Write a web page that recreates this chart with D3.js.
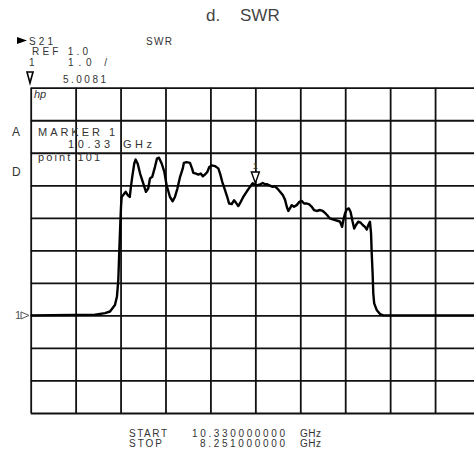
<!DOCTYPE html>
<html>
<head>
<meta charset="utf-8">
<script src="https://cdn.jsdelivr.net/npm/d3@7"></script>
<style>
  body { margin: 0; background: #fff; }
  svg text { font-family: "Liberation Sans", "DejaVu Sans", sans-serif; fill: #333; }
</style>
</head>
<body>
<svg id="swr"></svg>
<script>
// trace: point number (1..201) and SWR value
var pointNum = [1, 29.6, 34.1, 36.3, 38.5, 39.4, 40.0, 40.4, 40.9, 41.2, 41.5, 42.2, 43.3, 44.2, 45.1,
  45.6, 46.2, 47.1, 47.7, 48.6, 49.7, 51.1, 52.3, 53.3, 54.1, 55.1, 56.3, 57.2, 58.1, 59.3,
  60.5, 61.5, 63.0, 64.2, 65.2, 66.3, 67.5, 68.7, 69.2, 70.4, 71.9, 72.8, 73.4, 74.6, 75.6,
  76.7, 77.6, 78.6, 79.6, 80.5, 81.6, 83.0, 84.5, 85.3, 86.3, 87.5, 88.5, 89.3, 90.5, 91.5,
  92.4, 93.4, 94.5, 95.6, 97.1, 98.6, 99.8, 101, 101.6, 103.1, 104.3, 105.3, 106.3, 107.5,
  108.7, 109.7, 110.8, 112.0, 113.2, 114.2, 115.0, 115.7, 116.4, 117.2, 118.2, 119.4, 120.6,
  121.6, 122.7, 123.9, 125.0, 126.1, 127.1, 128.3, 129.8, 131.0, 132.0, 133.0, 134.2, 135.4,
  136.5, 137.5, 138.7, 139.6, 140.2, 140.9, 141.7, 142.6, 143.4, 144.3, 145.0, 145.8, 146.8,
  147.9, 148.8, 149.8, 150.6, 151.3, 152.0, 152.5, 152.8, 153.2, 153.5, 153.9, 155.0, 156.5,
  158.0, 201]
var swrValue = [1.0, 1.02, 1.07, 1.12, 1.32, 1.58, 2.09, 2.92, 3.84, 4.34, 4.64, 4.70, 4.80, 4.70, 4.64,
  4.95, 5.26, 5.67, 5.79, 5.67, 5.36, 5.06, 4.80, 4.90, 5.21, 5.26, 5.56, 5.82, 5.85, 5.67,
  5.41, 5.00, 4.64, 4.51, 4.64, 4.90, 5.26, 5.52, 5.69, 5.71, 5.69, 5.52, 5.38, 5.36, 5.33,
  5.36, 5.28, 5.33, 5.41, 5.56, 5.61, 5.59, 5.52, 5.36, 5.10, 4.85, 4.64, 4.44, 4.42, 4.54,
  4.46, 4.36, 4.49, 4.64, 4.80, 4.95, 5.06, 5.0081, 5.00, 5.03, 5.07, 5.03, 5.03, 4.99,
  4.95, 4.97, 4.90, 4.80, 4.70, 4.56, 4.34, 4.21, 4.29, 4.39, 4.34, 4.39, 4.49,
  4.52, 4.44, 4.44, 4.41, 4.34, 4.24, 4.21, 4.24, 4.21, 4.15, 4.08, 3.98, 3.95,
  3.93, 3.91, 3.88, 3.72, 3.93, 4.13, 4.26, 4.29, 4.18, 3.88, 3.67, 3.78, 3.88,
  3.85, 3.78, 3.72, 3.64, 3.78, 3.88, 3.52, 2.91, 2.29, 1.68, 1.37, 1.17, 1.04,
  1.00, 1.00]

// header / footer texts
var headerLines = ["S21", "REF  1.0", "1", "1.0   /", "5.0081"]
var markerLines = ["MARKER  1", "10.33", "GHz", "point  101"]
var startStop = ["START", "10.330000000", "GHz", "STOP", "8.251000000", "GHz"]

var refValue = 1.0
var markerPoint = 101
var markerValue = 5.0081

var initSwr = function()
{
    var screen = {width:474, height:458}
    var margins = {left:30.7, top:87.7}
    var graph = {width:449.3, height:325.3}

    var svg = d3.select("#swr")
        .attr("width", screen.width)
        .attr("height", screen.height)

    var xScale = d3.scaleLinear()
        .domain([1, 201])
        .range([margins.left, margins.left + graph.width])

    var yScale = d3.scaleLinear()
        .domain([-2, 8])
        .range([margins.top + graph.height, margins.top])

    //grid
    var xGrid = d3.axisBottom(xScale)
        .tickValues(d3.range(1, 202, 20))
        .tickSize(-graph.height)
        .tickFormat("")
    var yGrid = d3.axisLeft(yScale)
        .tickValues(d3.range(-2, 9, 1))
        .tickSize(-graph.width)
        .tickFormat("")

    svg.append("g")
        .attr("transform", "translate(0," + (margins.top + graph.height) + ")")
        .call(xGrid)
    svg.append("g")
        .attr("transform", "translate(" + margins.left + ",0)")
        .call(yGrid)
    svg.selectAll(".domain").remove()
    svg.selectAll(".tick line")
        .attr("stroke", "#111")
        .attr("stroke-width", 1.8)

    //trace
    var line = d3.line()
        .x(function(d, i) { return xScale(pointNum[i]) })
        .y(function(d) { return yScale(d) })

    svg.append("path")
        .datum(swrValue)
        .attr("d", line)
        .attr("fill", "none")
        .attr("stroke", "#000")
        .attr("stroke-width", 2.4)
        .attr("stroke-linejoin", "round")

    //marker on trace
    var mx = xScale(markerPoint), my = yScale(markerValue)
    svg.append("path")
        .attr("d", "M" + (mx - 4) + "," + (my - 13) + "L" + (mx + 4) + "," + (my - 13) + "L" + mx + "," + (my - 2) + "Z")
        .attr("fill", "#fff")
        .attr("stroke", "#000")
        .attr("stroke-width", 1.4)
    svg.append("text")
        .text("1")
        .attr("x", mx)
        .attr("y", my - 16)
        .attr("text-anchor", "middle")
        .style("font-size", "9px")

    //reference marker on the left
    var ry = yScale(refValue)
    svg.append("text")
        .text("1")
        .attr("x", 15)
        .attr("y", ry + 4)
        .style("font-size", "11px")
        .style("fill", "#555")
    svg.append("path")
        .attr("d", "M21," + (ry - 3.5) + "L29," + ry + "L21," + (ry + 3.5) + "Z")
        .attr("fill", "none")
        .attr("stroke", "#555")
        .attr("stroke-width", 1)

    //title
    svg.append("text")
        .text("d.")
        .attr("x", 206)
        .attr("y", 21)
        .style("font-size", "17px")
        .style("fill", "#444")
    svg.append("text")
        .text("SWR")
        .attr("x", 240)
        .attr("y", 21)
        .style("font-size", "17px")
        .style("fill", "#444")

    //header block
    var hdr = svg.append("g").style("font-size", "10px")
    svg.append("path")
        .attr("d", "M17,37L27,40.5L17,44Z")
        .attr("fill", "#000")
    hdr.append("text").text(headerLines[0]).attr("x", 29).attr("y", 45).attr("textLength", 24)
    hdr.append("text").text("SWR").attr("x", 146).attr("y", 45).attr("textLength", 26)
    hdr.append("text").text(headerLines[1]).attr("x", 32).attr("y", 55).attr("textLength", 56)
    hdr.append("text").text(headerLines[2]).attr("x", 29).attr("y", 66)
    hdr.append("text").text(headerLines[3]).attr("x", 68).attr("y", 66).attr("textLength", 39)
    hdr.append("text").text(headerLines[4]).attr("x", 63).attr("y", 83).attr("textLength", 43)
    svg.append("path")
        .attr("d", "M27,72L33,72L30,83Z")
        .attr("fill", "none")
        .attr("stroke", "#000")
        .attr("stroke-width", 1.6)

    //hp logo
    svg.append("text")
        .text("hp")
        .attr("x", 34)
        .attr("y", 98)
        .style("font-size", "11px")
        .style("font-style", "italic")

    //marker readout
    var mk = svg.append("g").style("font-size", "11px")
    mk.append("text").text("A").attr("x", 12).attr("y", 136).style("font-size", "12px")
    mk.append("text").text("D").attr("x", 12).attr("y", 176).style("font-size", "12px")
    mk.append("text").text(markerLines[0]).attr("x", 38).attr("y", 135.5).attr("textLength", 77)
    mk.append("text").text(markerLines[1]).attr("x", 68).attr("y", 148).attr("textLength", 42)
    mk.append("text").text(markerLines[2]).attr("x", 123).attr("y", 148).attr("textLength", 29)
    mk.append("text").text(markerLines[3]).attr("x", 38).attr("y", 161).attr("textLength", 62)

    //start / stop
    var ss = svg.append("g").style("font-size", "10px")
    ss.append("text").text(startStop[0]).attr("x", 129).attr("y", 436.5).attr("textLength", 38)
    ss.append("text").text(startStop[1]).attr("x", 285).attr("y", 436.5).attr("text-anchor", "end").attr("textLength", 93)
    ss.append("text").text(startStop[2]).attr("x", 300).attr("y", 436.5).attr("textLength", 21)
    ss.append("text").text(startStop[3]).attr("x", 129).attr("y", 447).attr("textLength", 33)
    ss.append("text").text(startStop[4]).attr("x", 285).attr("y", 447).attr("text-anchor", "end").attr("textLength", 85)
    ss.append("text").text(startStop[5]).attr("x", 300).attr("y", 447).attr("textLength", 21)
}

initSwr()
</script>
</body>
</html>
